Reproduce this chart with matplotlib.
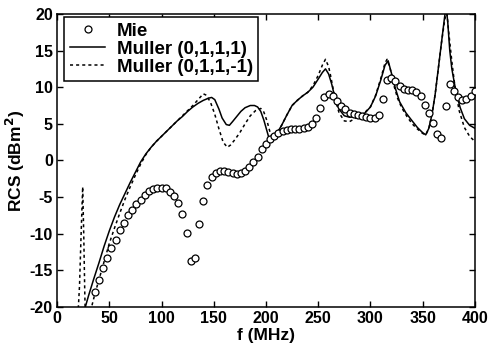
import numpy as np
import matplotlib
matplotlib.use("Agg")
import matplotlib.pyplot as plt

plt.rcParams['font.family'] = ['Liberation Sans', 'DejaVu Sans']
plt.rcParams['font.weight'] = 'bold'
plt.rcParams['axes.unicode_minus'] = False

# Mie series, sampled every 4 MHz
mie_f = list(range(36, 404, 4))
mie_rcs = [-18.0, -16.3, -14.6, -13.3, -11.9, -10.8, -9.5, -8.5, -7.5, -6.8,
           -5.9, -5.4, -4.7, -4.2, -3.9, -3.7, -3.7, -3.8, -4.3, -4.8,
           -5.8, -7.3, -9.9, -13.7, -13.3, -8.7, -5.5, -3.4, -2.3, -1.7,
           -1.4, -1.4, -1.6, -1.75, -1.8, -1.7, -1.4, -0.9, -0.25, 0.5,
           1.5, 2.2, 2.9, 3.35, 3.8, 4.0, 4.2, 4.25, 4.3, 4.35,
           4.4, 4.6, 5.0, 5.8, 7.2, 8.6, 9.1, 8.8, 8.1, 7.4,
           7.0, 6.5, 6.3, 6.2, 6.1, 5.9, 5.8, 5.75, 6.2, 8.4,
           11.0, 11.2, 10.85, 10.2, 9.8, 9.6, 9.55, 9.4, 8.8, 7.6,
           6.45, 5.1, 3.6, 3.1, 7.5, 10.4, 9.5, 8.6, 8.3, 8.35,
           8.8, 9.5]

# Muller (0,1,1,1)
m1_f = [25, 30, 35, 40, 45, 50, 55, 60, 65, 70, 75, 80, 85, 90, 95, 100,
        105, 110, 115, 120, 125, 130, 135, 140, 145, 148, 151, 155, 158, 162,
        165, 168, 172, 176, 180, 185, 189, 192, 195, 198, 201, 203, 206, 210,
        215, 220, 225, 230, 235, 240, 245, 250, 254, 257, 260, 263, 266, 270,
        275, 280, 285, 290, 295, 300, 305, 310, 314, 317, 320, 324, 328, 334,
        340, 345, 350, 353, 356, 359, 362, 365, 368, 371, 372.5, 374, 376, 378,
        382, 386, 390, 395, 400]
m1_rcs = [-21.0, -18.5, -16.2, -14.0, -11.7, -9.6, -7.7, -6.0, -4.5, -3.0, -1.6, -0.2, 0.9, 1.8, 2.6, 3.3,
          4.0, 4.7, 5.4, 6.0, 6.7, 7.3, 7.8, 8.2, 8.5, 8.6, 8.3, 7.0, 5.8, 4.9,
          4.8, 5.3, 6.0, 6.7, 7.2, 7.5, 7.5, 7.3, 6.7, 5.5, 4.0, 3.0, 3.0, 3.6,
          4.8, 6.2, 7.5, 8.2, 8.8, 9.3, 10.0, 11.1, 12.0, 12.5, 11.8, 10.4, 8.6, 7.0,
          6.1, 5.9, 6.0, 6.2, 6.5, 7.3, 8.8, 11.0, 13.0, 13.6, 12.0, 9.8, 8.0, 6.5,
          5.4, 4.5, 3.8, 3.5, 4.4, 6.3, 9.0, 12.5, 16.0, 19.5, 21.0, 19.0, 15.0, 12.5,
          9.3, 7.2, 5.7, 4.8, 4.4]

# Muller (0,1,1,-1)
m2_f = [20, 21.5, 23, 24.5, 25.5, 26.5, 27, 31, 33, 36, 40, 45, 50, 55, 60, 65,
        70, 75, 80, 85, 90, 95, 100, 105, 110, 115, 120, 125, 130, 135, 140, 143,
        147, 151, 155, 159, 163, 166, 170, 175, 180, 185, 190, 195, 198, 201, 204, 207,
        210, 215, 220, 225, 230, 235, 240, 245, 250, 254, 257, 260, 262, 266, 270, 275,
        280, 285, 290, 295, 300, 305, 310, 314, 316, 319, 322, 326, 330, 335, 340, 345,
        350, 353, 356, 359, 362, 365, 368, 371, 373, 375, 378, 381, 385, 390, 395, 400]
m2_rcs = [-21.0, -17.0, -10.0, -3.6, -10.0, -18.0, -21.0, -21.0, -20.0, -18.3, -16.3, -13.8, -11.3, -9.2, -7.2, -5.3,
          -3.6, -2.0, -0.5, 0.8, 1.8, 2.6, 3.3, 4.0, 4.7, 5.4, 6.1, 6.8, 7.5, 8.3, 9.1, 8.9,
          7.9, 6.3, 4.3, 2.5, 1.8, 2.1, 2.8, 3.8, 5.0, 6.1, 6.8, 7.1, 6.6, 5.4, 3.8, 3.0,
          3.6, 4.8, 6.2, 7.5, 8.2, 8.8, 9.3, 10.2, 11.6, 13.0, 13.8, 12.8, 11.5, 8.5, 6.5, 5.4,
          5.3, 5.7, 6.2, 6.6, 7.3, 8.9, 11.2, 13.3, 13.8, 12.5, 10.5, 8.5, 7.2, 6.0, 5.0, 4.3,
          3.7, 3.5, 4.4, 6.3, 9.0, 12.5, 16.0, 19.0, 20.5, 17.5, 13.5, 10.0, 6.8, 4.5, 3.3, 2.6]

fig = plt.figure(figsize=(4.88, 3.47), dpi=100)
ax = fig.add_axes([0.117, 0.115, 0.856, 0.845])

ax.plot(mie_f, mie_rcs, linestyle='none', marker='o', markersize=5,
        markerfacecolor='white', markeredgecolor='black', markeredgewidth=0.9,
        label='Mie', zorder=3)
ax.plot(m1_f, m1_rcs, color='black', linewidth=1.1, label='Muller (0,1,1,1)')
ax.plot(m2_f, m2_rcs, color='black', linewidth=1.1, linestyle=(0, (2, 2)),
        label='Muller (0,1,1,-1)')

ax.set_xlim(0, 400)
ax.set_ylim(-20, 20)
ax.set_xticks(np.arange(0, 401, 50))
ax.set_yticks(np.arange(-20, 21, 5))
ax.tick_params(direction='in', top=True, right=True, labelsize=11.5, length=4, width=1, pad=3)
for lab in ax.get_xticklabels() + ax.get_yticklabels():
    lab.set_fontweight('bold')
for sp in ax.spines.values():
    sp.set_linewidth(1.1)

ax.set_xlabel('f (MHz)', fontsize=12.5, fontweight='bold', labelpad=1)
ax.set_ylabel('RCS (dBm$^2$)', fontsize=12.5, fontweight='bold', labelpad=2)

leg = ax.legend(loc='upper left', bbox_to_anchor=(0.017, 0.99), fontsize=13.5,
                frameon=True, fancybox=False, edgecolor='black', framealpha=1,
                borderpad=0.3, labelspacing=0.05, handlelength=1.9,
                handletextpad=0.6, borderaxespad=0)
leg.get_frame().set_linewidth(1.1)
for t in leg.get_texts():
    t.set_fontweight('bold')

fig.savefig('out.png', dpi=100)
